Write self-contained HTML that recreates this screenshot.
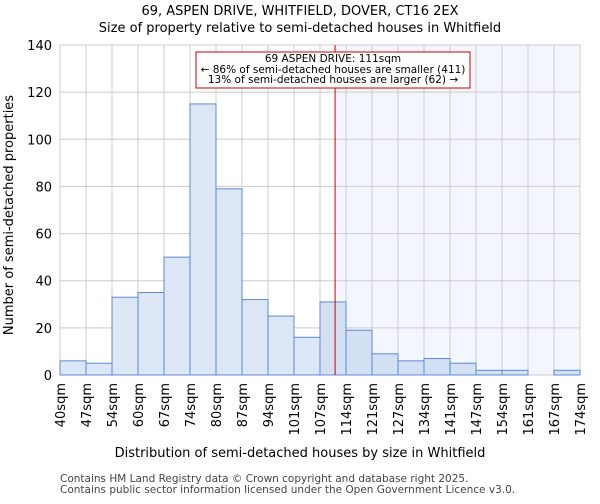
<!DOCTYPE html>
<html><head><meta charset="utf-8"><style>
body{margin:0;background:#fff;font-family:"DejaVu Sans","Liberation Sans",sans-serif;}
</style></head><body>
<svg width="600" height="500" xmlns="http://www.w3.org/2000/svg" font-family="DejaVu Sans, Liberation Sans, sans-serif">
<g id="g"></g>
</svg>
<script>
const categories=["40sqm","47sqm","54sqm","60sqm","67sqm","74sqm","80sqm","87sqm","94sqm","101sqm","107sqm","114sqm","121sqm","127sqm","134sqm","141sqm","147sqm","154sqm","161sqm","167sqm","174sqm"];
const counts=[6,5,33,35,50,115,79,32,25,16,31,19,9,6,7,5,2,2,0,2];
const yTicks=[0,20,40,60,80,100,120,140];
const markerBin=10.58;
const L=60,R=580,T=45,B=375,YMAX=140,N=counts.length;
const bw=(R-L)/N;
const xs=i=>L+i*bw, ys=v=>B-(B-T)*v/YMAX;
const g=document.getElementById('g');
const NS='http://www.w3.org/2000/svg';
function mk(t,a,p){const e=document.createElementNS(NS,t);for(const k in a)e.setAttribute(k,a[k]);(p||g).appendChild(e);return e;}
function txt(s,a){const e=mk('text',a);e.textContent=s;return e;}
let e=txt("69, ASPEN DRIVE, WHITFIELD, DOVER, CT16 2EX",{x:300,y:15,"text-anchor":"middle","font-size":13});

e=txt("Size of property relative to semi-detached houses in Whitfield",{x:300,y:32,"text-anchor":"middle","font-size":13});

e=mk('rect',{x:xs(markerBin),y:T,width:R-xs(markerBin),height:B-T,fill:"#f3f6fd"});

for(let i=0;i<=N;i++){e=mk('line',{x1:xs(i),x2:xs(i),y1:T,y2:B,stroke:"#cccccc","stroke-width":1});
}
yTicks.forEach(v=>{e=mk('line',{x1:L,x2:R,y1:ys(v),y2:ys(v),stroke:"#cccccc","stroke-width":1});

e=txt(String(v),{x:L-8,y:ys(v)+5,"text-anchor":"end","font-size":13});
});
counts.forEach((v,i)=>{if(v<=0)return;e=mk('rect',{x:xs(i),y:ys(v),width:bw,height:B-ys(v),fill:i+1>markerBin?"#d3dff2":"#dce6f4",stroke:"#5b8bd0","stroke-width":1});
});
categories.forEach((c,i)=>{const x=xs(i);e=txt(c,{x:0,y:0,"text-anchor":"end","font-size":13,transform:`translate(${x+5},${B+8}) rotate(-90)`});
});
e=mk('line',{x1:xs(markerBin),x2:xs(markerBin),y1:T,y2:B,stroke:"#cc0000","stroke-width":1});

e=mk('rect',{x:196,y:52,width:274,height:36,fill:"#fff",stroke:"#cc0000","stroke-width":1});

[["69 ASPEN DRIVE: 111sqm",62],["← 86% of semi-detached houses are smaller (411)",73],["13% of semi-detached houses are larger (62) →",83]].forEach(([s,y])=>{
e=txt(s,{x:333,y:y,"text-anchor":"middle","font-size":10.5});});
e=txt("Distribution of semi-detached houses by size in Whitfield",{x:300,y:457,"text-anchor":"middle","font-size":13});

e=txt("Number of semi-detached properties",{x:0,y:0,"text-anchor":"middle","font-size":13,transform:"translate(13,215) rotate(-90)"});

e=txt("Contains HM Land Registry data © Crown copyright and database right 2025.",{x:60,y:482,"font-size":10.5,fill:"#444"});

e=txt("Contains public sector information licensed under the Open Government Licence v3.0.",{x:60,y:493,"font-size":10.5,fill:"#444"});

</script>
</body></html>
